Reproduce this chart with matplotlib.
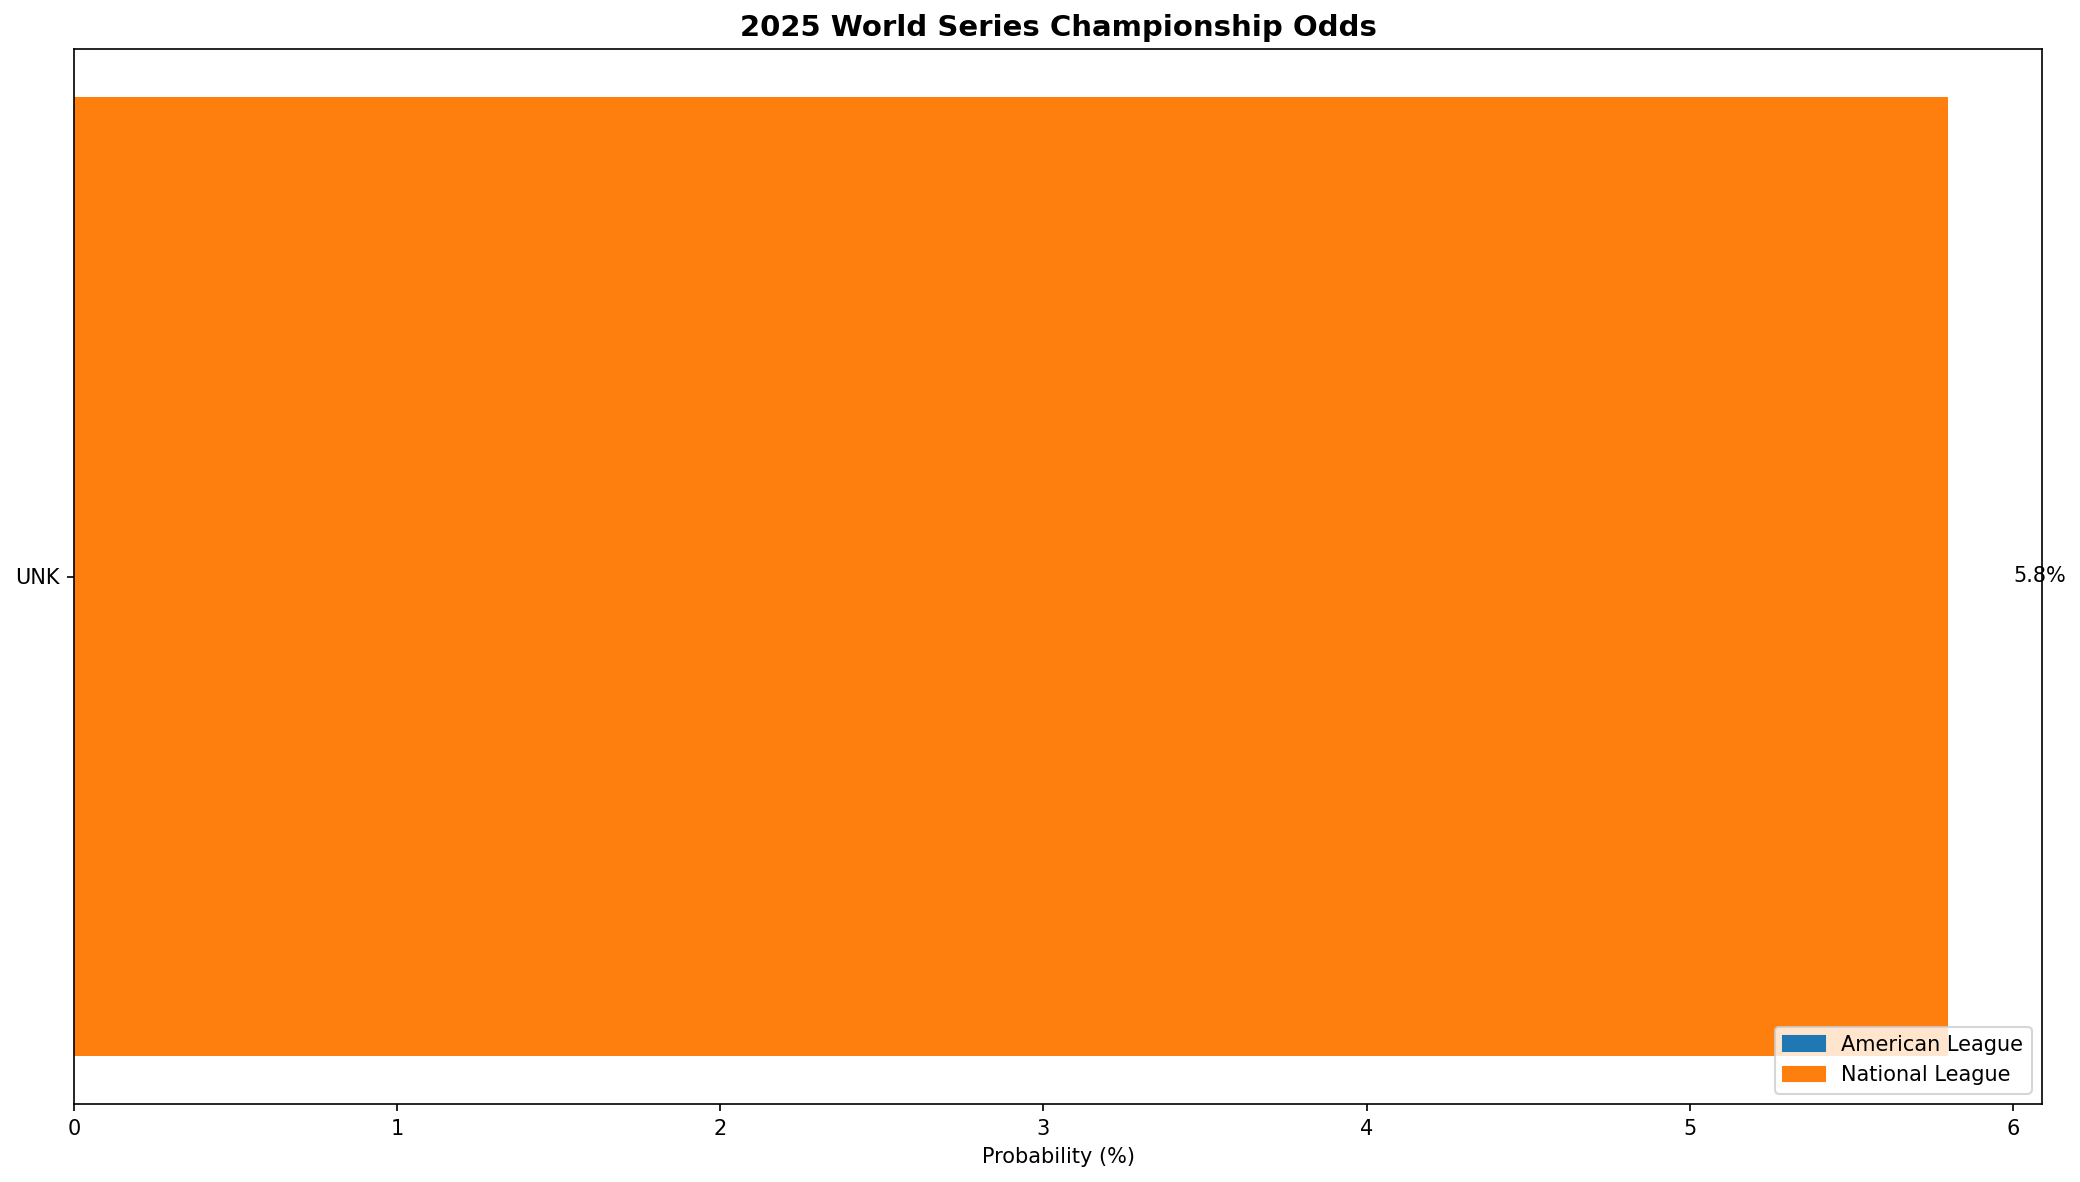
import matplotlib
matplotlib.use("Agg")
import matplotlib.pyplot as plt
from matplotlib.patches import Patch

teams = ["UNK"]
probs = [5.8]
leagues = ["NL"]

league_colors = {"AL": "#1f77b4", "NL": "#ff7f0e"}
league_names = {"AL": "American League", "NL": "National League"}

fig, ax = plt.subplots(figsize=(2080 / 150, 1182 / 150), dpi=150)
fig.subplots_adjust(left=74 / 2080, right=2042 / 2080, top=1 - 49 / 1182, bottom=1 - 1104 / 1182)

colors = [league_colors[lg] for lg in leagues]
ax.barh(teams, probs, color=colors)

for i, p in enumerate(probs):
    ax.text(p + 0.2, i, f"{p}%", va="center", ha="left", fontsize=10)

ax.set_xlabel("Probability (%)")
ax.set_title("2025 World Series Championship Odds", fontsize=14, fontweight="bold")

handles = [Patch(color=league_colors[k], label=league_names[k]) for k in ["AL", "NL"]]
ax.legend(handles=handles, loc="lower right")

fig.savefig("out.png", dpi=150)
